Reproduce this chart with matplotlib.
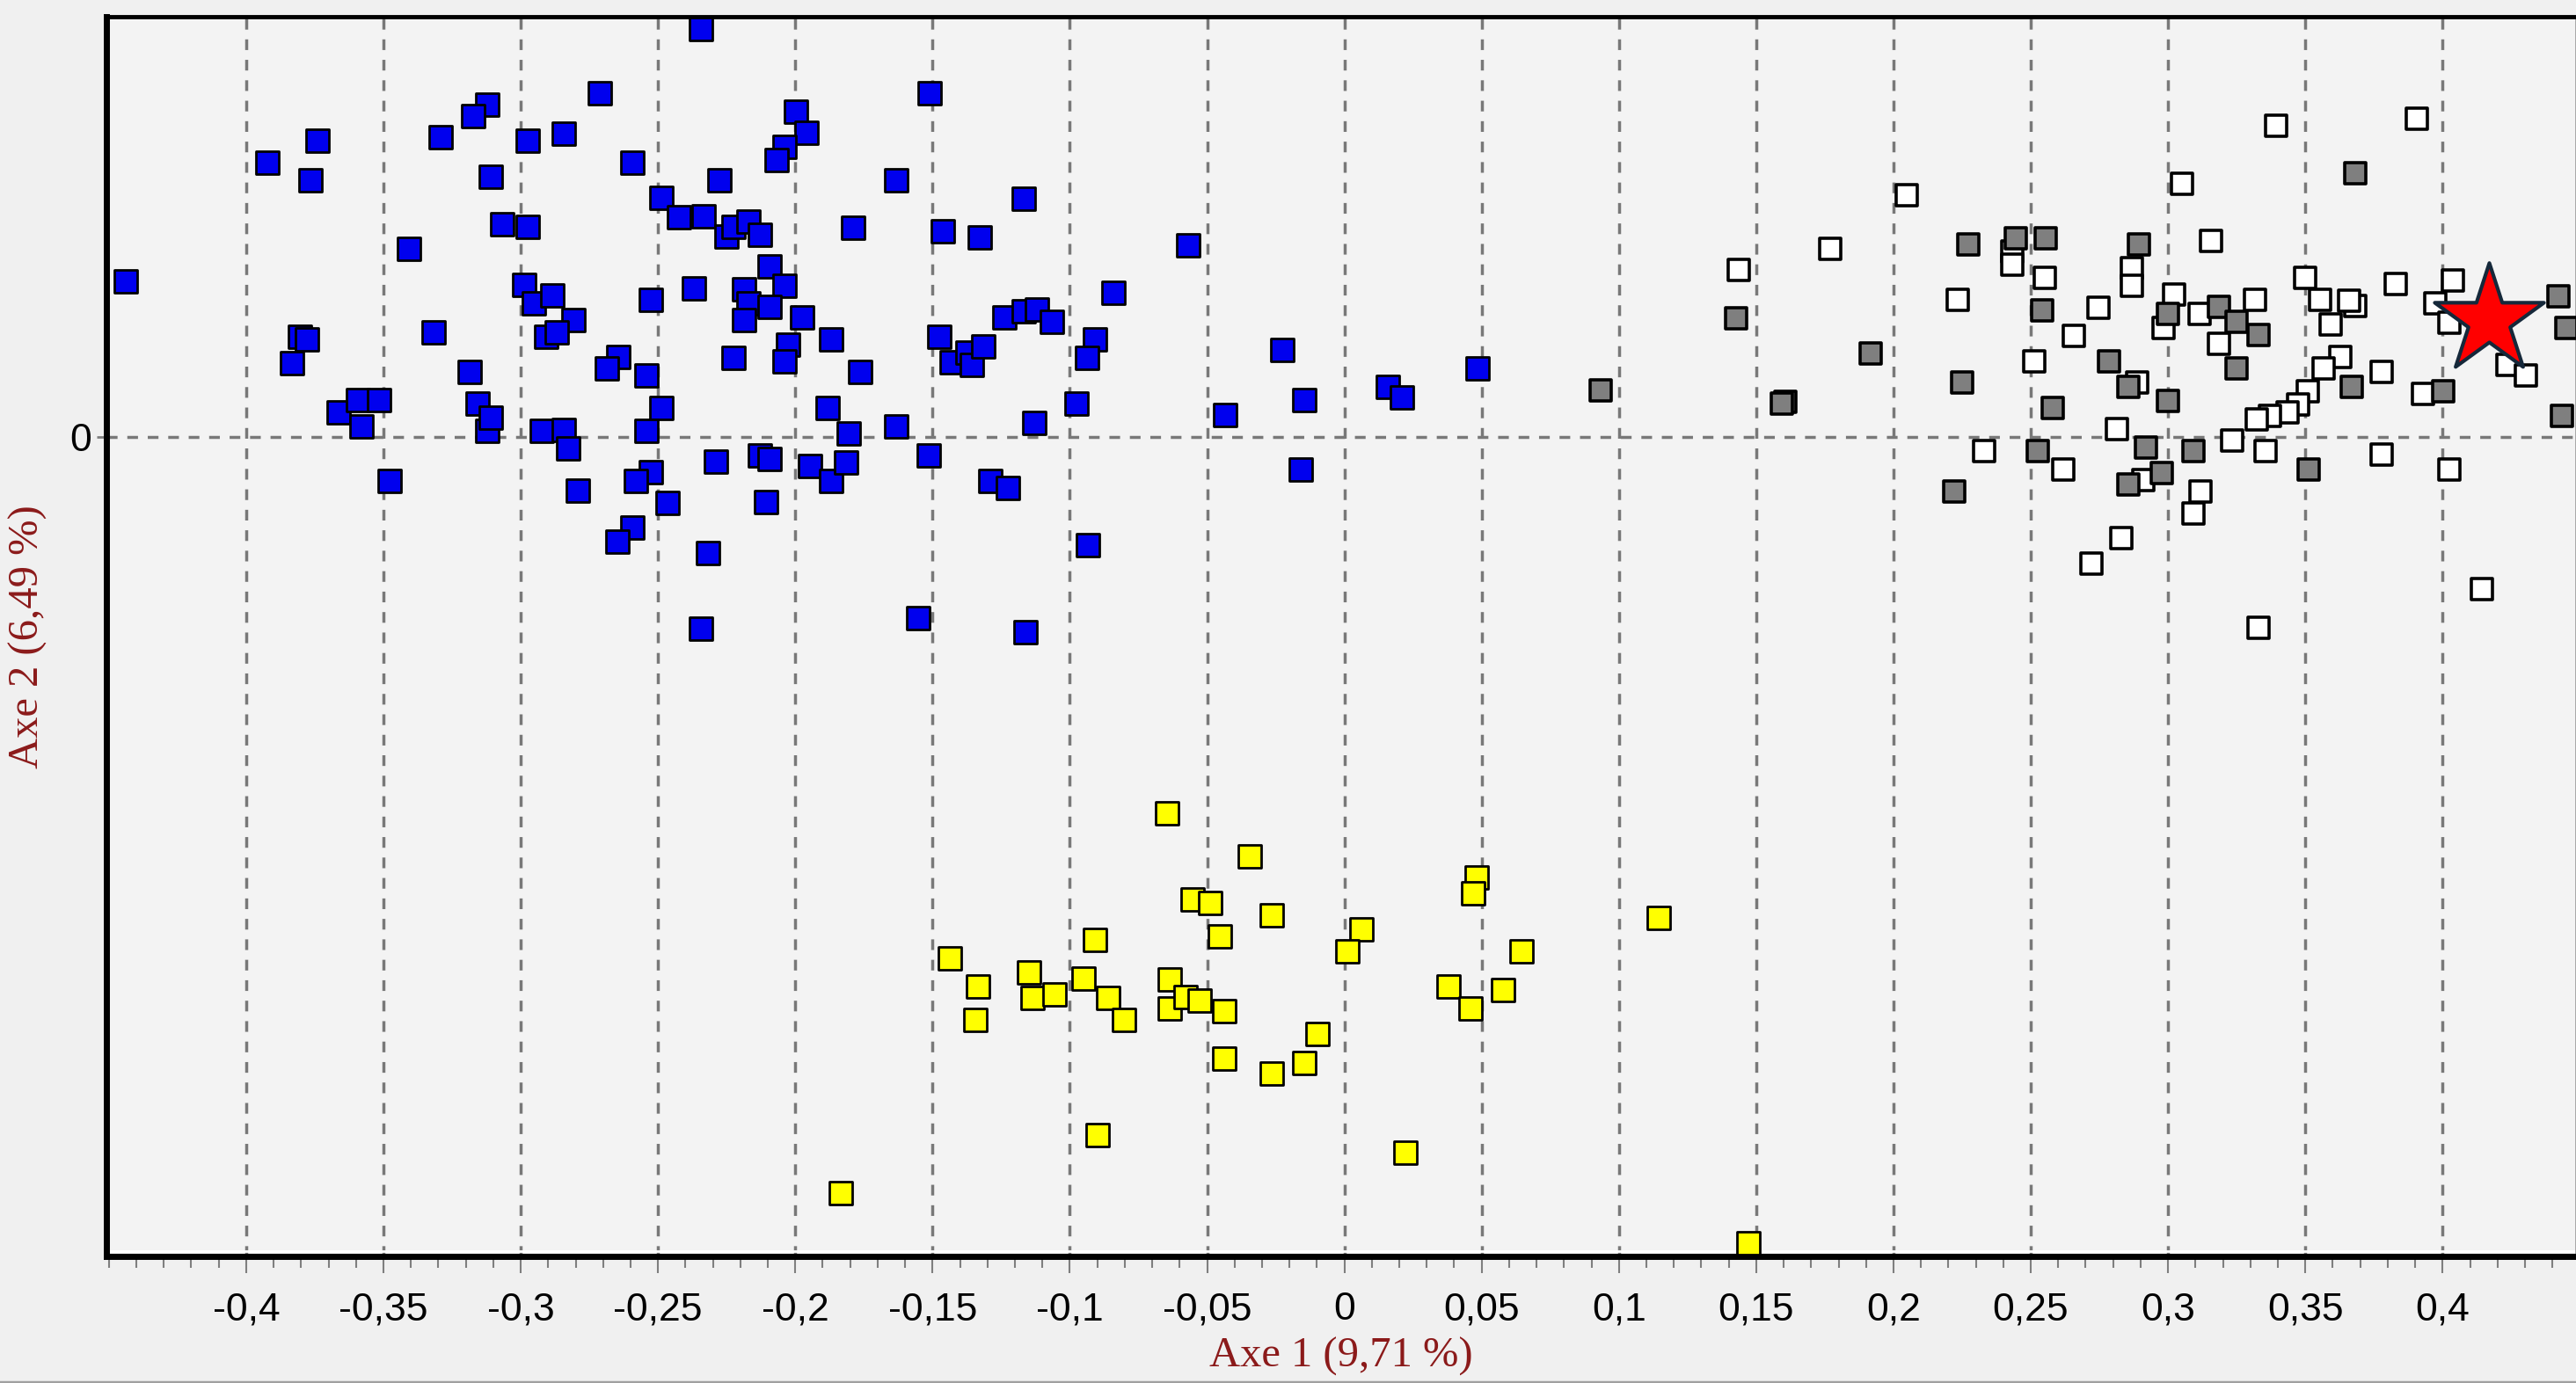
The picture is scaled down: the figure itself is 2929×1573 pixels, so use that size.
import numpy as np
import matplotlib.pyplot as plt
from matplotlib.ticker import FixedLocator, MultipleLocator, FuncFormatter
from matplotlib.lines import Line2D

# points: (axe 1, axe 2)
blue_pts = [
    (-0.2342, 0.1486), (-0.2712, 0.1250), (-0.3121, 0.1211), (-0.3172, 0.1169), (-0.3739, 0.1079),
    (-0.3923, 0.0998), (-0.3292, 0.1091), (-0.2975, 0.1079), (-0.2843, 0.1104), (-0.2592, 0.0998),
    (-0.3766, 0.0933), (-0.3108, 0.0946), (-0.2276, 0.0933), (-0.1998, 0.1185), (-0.1958, 0.1107),
    (-0.2039, 0.1056), (-0.2069, 0.1009), (-0.2489, 0.0869), (-0.2423, 0.0800), (-0.2333, 0.0803),
    (-0.2252, 0.0730), (-0.2224, 0.0765), (-0.2170, 0.0784), (-0.2129, 0.0737), (-0.3069, 0.0773),
    (-0.2975, 0.0764), (-0.3408, 0.0683), (-0.4438, 0.0567), (-0.2989, 0.0554), (-0.2951, 0.0486),
    (-0.2884, 0.0515), (-0.2807, 0.0424), (-0.2908, 0.0365), (-0.2868, 0.0380), (-0.2526, 0.0500),
    (-0.2369, 0.0539), (-0.2186, 0.0536), (-0.2093, 0.0621), (-0.2039, 0.0551), (-0.2170, 0.0486),
    (-0.2093, 0.0474), (-0.2186, 0.0424), (-0.1974, 0.0435), (-0.3804, 0.0365), (-0.3779, 0.0354),
    (-0.3832, 0.0269), (-0.3317, 0.0380), (-0.2644, 0.0290), (-0.2685, 0.0248), (-0.2541, 0.0222),
    (-0.2224, 0.0287), (-0.2026, 0.0334), (-0.2039, 0.0275), (-0.3186, 0.0236), (-0.3662, 0.0090),
    (-0.3592, 0.0132), (-0.3515, 0.0132), (-0.3580, 0.0036), (-0.3158, 0.0120), (-0.3121, 0.0023),
    (-0.3109, 0.0070), (-0.2922, 0.0023), (-0.2843, 0.0026), (-0.2828, -0.0043), (-0.2489, 0.0104),
    (-0.2541, 0.0023), (-0.3477, -0.0160), (-0.2791, -0.0197), (-0.2526, -0.0129), (-0.2582, -0.0160),
    (-0.2464, -0.0241), (-0.2289, -0.0090), (-0.2129, -0.0067), (-0.2093, -0.0081), (-0.2108, -0.0238),
    (-0.2592, -0.0331), (-0.2647, -0.0383), (-0.2317, -0.0424), (-0.2342, -0.0699),
    (-0.1511, 0.1250), (-0.1633, 0.0933), (-0.1168, 0.0868), (-0.1788, 0.0761), (-0.1462, 0.0748),
    (-0.1328, 0.0725), (-0.0568, 0.0696), (-0.0842, 0.0525), (-0.1869, 0.0354), (-0.1763, 0.0236),
    (-0.1475, 0.0365), (-0.1238, 0.0435), (-0.1168, 0.0458), (-0.1119, 0.0463), (-0.1065, 0.0419),
    (-0.1429, 0.0272), (-0.1372, 0.0306), (-0.1356, 0.0261), (-0.1315, 0.0329), (-0.0907, 0.0354),
    (-0.0936, 0.0287), (-0.0225, 0.0315), (0.0485, 0.0248), (0.0158, 0.0183), (0.0210, 0.0143),
    (-0.0145, 0.0132), (-0.0976, 0.0120), (-0.1881, 0.0106), (-0.1804, 0.0012), (-0.1633, 0.0039),
    (-0.1130, 0.0051), (-0.0434, 0.0078), (-0.1514, -0.0067), (-0.1946, -0.0106), (-0.1869, -0.0160),
    (-0.1816, -0.0093), (-0.1290, -0.0160), (-0.1225, -0.0186), (-0.0160, -0.0121), (-0.0935, -0.0396),
    (-0.1551, -0.0660), (-0.1160, -0.0711),
]

yellow_pts = [
    (-0.0647, -0.1373), (-0.0344, -0.1530), (0.0483, -0.1605), (0.0470, -0.1662), (-0.0553, -0.1687),
    (-0.0490, -0.1700), (-0.0265, -0.1742), (0.1144, -0.1754), (-0.0910, -0.1834), (-0.0452, -0.1820),
    (0.0061, -0.1794), (0.0011, -0.1874), (0.0645, -0.1874), (-0.1438, -0.1899), (-0.1333, -0.2003),
    (-0.1148, -0.1950), (-0.1135, -0.2043), (-0.1056, -0.2030), (-0.0951, -0.1974), (-0.0861, -0.2043),
    (-0.0804, -0.2123), (-0.1344, -0.2123), (-0.0636, -0.1977), (-0.0636, -0.2083), (-0.0580, -0.2042),
    (-0.0528, -0.2054), (-0.0438, -0.2094), (0.0380, -0.2003), (0.0578, -0.2017), (0.0458, -0.2083),
    (-0.0097, -0.2175), (-0.0438, -0.2266), (-0.0146, -0.2280), (-0.0265, -0.2320), (-0.0899, -0.2543),
    (0.0222, -0.2609), (-0.1834, -0.2755), (0.1472, -0.2938),
]

white_pts = [
    (0.2049, 0.0880), (0.1770, 0.0684), (0.1437, 0.0606), (0.2432, 0.0675), (0.2432, 0.0628),
    (0.2552, 0.0579), (0.2235, 0.0499), (0.2657, 0.0367), (0.2512, 0.0276), (0.2330, -0.0053),
    (0.2620, -0.0120),
    (0.3394, 0.1133), (0.3907, 0.1159), (0.3051, 0.0920), (0.3158, 0.0712), (0.2868, 0.0615),
    (0.2868, 0.0551), (0.2746, 0.0471), (0.3022, 0.0518), (0.2985, 0.0396), (0.3115, 0.0449),
    (0.3316, 0.0499), (0.3185, 0.0339), (0.3498, 0.0579), (0.3554, 0.0499), (0.3591, 0.0409),
    (0.3682, 0.0475), (0.3661, 0.0495), (0.3829, 0.0555), (0.4038, 0.0568), (0.3974, 0.0486),
    (0.4024, 0.0416), (0.4236, 0.0263), (0.4305, 0.0223), (0.3628, 0.0290), (0.3566, 0.0250),
    (0.3510, 0.0167), (0.3475, 0.0117), (0.3434, 0.0090), (0.3371, 0.0077), (0.3324, 0.0064),
    (0.3235, -0.0013), (0.3355, -0.0052), (0.3777, 0.0236), (0.3928, 0.0157), (0.2815, 0.0027),
    (0.3777, -0.0066), (0.4024, -0.0120), (0.3118, -0.0199), (0.3092, -0.0279), (0.2830, -0.0368),
    (0.2720, -0.0461), (0.2909, -0.0159), (0.2889, 0.0197), (0.4143, -0.0554), (0.3328, -0.0697),
]

grey_pts = [
    (0.2274, 0.0699), (0.2447, 0.0724), (0.2554, 0.0724), (0.1426, 0.0433), (0.2540, 0.0459),
    (0.1916, 0.0303), (0.0935, 0.0170), (0.1607, 0.0127), (0.1593, 0.0120), (0.2249, 0.0197),
    (0.2579, 0.0104), (0.2527, -0.0053), (0.2221, -0.0198),
    (0.3682, 0.0960), (0.2894, 0.0699), (0.3001, 0.0446), (0.3185, 0.0473), (0.3251, 0.0420),
    (0.3330, 0.0369), (0.2786, 0.0276), (0.2856, 0.0183), (0.3251, 0.0250), (0.3001, 0.0130),
    (0.3669, 0.0183), (0.4001, 0.0167), (0.4422, 0.0513), (0.4451, 0.0396), (0.4436, 0.0077),
    (0.2921, -0.0040), (0.3092, -0.0052), (0.2976, -0.0133), (0.2854, -0.0173), (0.3512, -0.0118),
]

star_pt = (0.417, 0.0425)

x_major = np.round(np.arange(-0.40, 0.401, 0.05), 2)
x_label = "Axe 1 (9,71 %)"
y_label = "Axe 2 (6,49 %)"

W, H = 2929, 1573
fig = plt.figure(figsize=(W / 100, H / 100), dpi=100, facecolor="#f0f0f0")
ax = fig.add_axes([121 / W, 1 - 1429 / H, 1 - 121 / W, (1429 - 19) / H])
ax.set_facecolor("#f3f3f3")

ax.set_xlim(-0.4509, 0.4486)
ax.set_ylim(-0.2986, 0.1530)

# grid only on the major x ticks and on y = 0
for xv in x_major:
    ax.axvline(xv, color="#787878", lw=2.5, ls=(0, (3.5, 3.2)), zorder=1)
ax.axhline(0, color="#787878", lw=2.5, ls=(0, (3.5, 3.2)), zorder=1)

def draw(pts, face, lw, size, z):
    arr = np.array(pts)
    ax.scatter(arr[:, 0], arr[:, 1], marker="s", s=size ** 2, c=face,
               edgecolors="black", linewidths=lw, zorder=z)

draw(blue_pts, "#0000ee", 2.0, 18.5, 3)
draw(yellow_pts, "#ffff00", 2.0, 18.5, 3)
draw(white_pts, "#ffffff", 2.6, 17.5, 4)
draw(grey_pts, "#7f7f7f", 2.6, 17.5, 5)
ax.scatter([star_pt[0]], [star_pt[1]], marker="*", s=94 ** 2, c="#ff0000",
           edgecolors="#15283a", linewidths=3, zorder=6)

# spines
for side in ["left", "bottom"]:
    ax.spines[side].set_linewidth(5)
    ax.spines[side].set_color("black")
ax.spines["top"].set_linewidth(3.5)
ax.spines["right"].set_color("#a0a0a0")
ax.spines["right"].set_linewidth(2)
ax.plot([0, 1], [0.004, 0.004], transform=ax.transAxes, color="white", lw=2, zorder=2)


def comma_fmt(v, pos):
    v = round(v, 2)
    if abs(v) < 1e-9:
        return "0"
    return ("%g" % v).replace(".", ",")


ax.xaxis.set_major_locator(FixedLocator(x_major))
ax.xaxis.set_minor_locator(MultipleLocator(0.01))
ax.xaxis.set_major_formatter(FuncFormatter(comma_fmt))
ax.set_yticks([0])
ax.set_yticklabels(["0"])

ax.tick_params(axis="x", which="major", length=14, width=1.5, color="#7f7f7f", pad=15,
               labelsize=32, labelcolor="black")
ax.tick_params(axis="x", which="minor", length=9, width=1.5, color="#7f7f7f")
ax.tick_params(axis="y", which="major", length=8, width=2, color="#7f7f7f", pad=4,
               labelsize=32, labelcolor="black")
for lab in ax.get_xticklabels() + ax.get_yticklabels():
    lab.set_family("Liberation Sans")

ax.set_xlabel(x_label, family="Liberation Serif", fontsize=35, color="#8b1a1a")
ax.set_ylabel(y_label, family="Liberation Serif", fontsize=35, color="#8b1a1a")
ax.xaxis.set_label_coords(0.5, (1429 - 1543) / 1410)
ax.xaxis.label.set_va("center")
ax.yaxis.set_label_coords((32 - 121) / 2808, 0.5)
ax.yaxis.label.set_va("center")

# thin frame of the window at the bottom
fig.add_artist(Line2D([0, 1], [1.5 / H, 1.5 / H], color="#a0a0a0", lw=2.5))

fig.savefig("out.png", dpi=100, facecolor=fig.get_facecolor())
